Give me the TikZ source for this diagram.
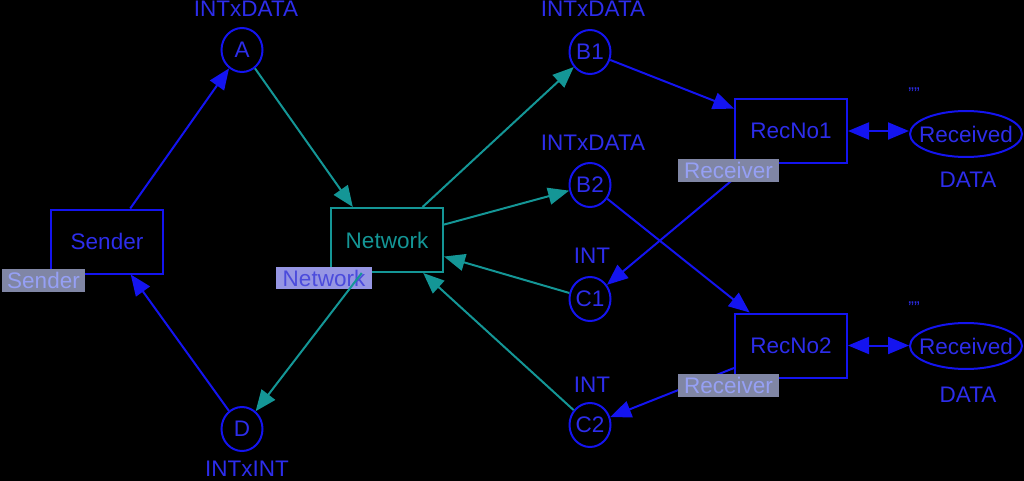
\documentclass[tikz,border=0pt]{standalone}
\usepackage{fontspec}
\setmainfont{Liberation Sans}
\usetikzlibrary{arrows.meta,shapes.geometric}
\definecolor{pblue}{RGB}{20,20,240}
\definecolor{ptext}{RGB}{45,45,235}
\definecolor{tealc}{RGB}{20,150,150}
\definecolor{tagfill}{RGB}{128,134,165}
\definecolor{tagtext}{RGB}{150,160,245}
\definecolor{ntagfill}{RGB}{150,150,228}
\definecolor{ntagtext}{RGB}{75,75,220}
\begin{document}
\begin{tikzpicture}[x=1pt,y=-1pt,
  every node/.style={font=\fontsize{22.5}{26}\selectfont},
  trans/.style={draw=pblue, line width=2pt, rectangle, minimum width=112pt, minimum height=64pt, inner sep=0pt, text=ptext},
  place/.style={draw=pblue, line width=2pt, ellipse, minimum width=41pt, minimum height=44pt, inner sep=0pt, text=ptext},
  bigplace/.style={draw=pblue, line width=2pt, ellipse, minimum width=112pt, minimum height=46pt, inner xsep=-8pt, inner ysep=0pt, text=ptext},
  lbl/.style={text=ptext, inner sep=0pt},
  quot/.style={text=ptext, inner sep=0pt, font=\fontsize{17}{18}\selectfont},
  tagbox/.style={fill=tagfill, text=tagtext, inner sep=0pt, minimum height=23pt},
  ntagbox/.style={fill=ntagfill, text=ntagtext, inner sep=0pt, minimum height=22pt, minimum width=96pt},
  tip/.tip={Triangle[length=21pt,width=17pt]},
  arcb/.style={draw=pblue, line width=2pt, -tip},
  arct/.style={draw=tealc, line width=2pt, -tip},
  dblarc/.style={draw=pblue, line width=2pt, tip-tip}
]
\fill[black] (0,0) rectangle (1024,481);
\useasboundingbox (0,0) rectangle (1024,481);

% transitions
\node[trans] (sender) at (107,241.5) {Sender};
\node[trans, draw=tealc, text=tealc] (network) at (387,240) {Network};
\node[trans] (recno1) at (791,131) {RecNo1};
\node[trans] (recno2) at (791,345.5) {RecNo2};

% places
\node[place] (A) at (242,50) {A};
\node[place] (B1) at (590,52) {B1};
\node[place] (B2) at (590,185) {B2};
\node[place] (C1) at (590,299) {C1};
\node[place] (C2) at (590,425) {C2};
\node[place] (D) at (242,429) {D};
\node[bigplace] (rec1) at (966,134) {Received};
\node[bigplace] (rec2) at (966,346) {Received};

% colour sets
\node[lbl] (lA) at (246,9) {INTxDATA};
\node[lbl] (lB1) at (593,9) {INTxDATA};
\node[lbl] (lB2) at (593,143) {INTxDATA};
\node[lbl] (lC1) at (592,256) {INT};
\node[lbl] (lC2) at (592,385) {INT};
\node[lbl] (lD) at (247,469) {INTxINT};
\node[lbl] (lr1) at (968,180) {DATA};
\node[lbl] (lr2) at (968,395) {DATA};
\node[quot] (q1) at (914,94) {""};
\node[quot] (q2) at (914,308) {""};

% network tag (below the arc)
\node[ntagbox] (tnet) at (324,278) {Network};

% arcs
\draw[arcb] (sender) -- (A);
\draw[arct] (A) -- (network.136.7);
\draw[arct] (network) -- (B1);
\draw[arct] (network) -- (B2);
\draw[arct] (C1) -- (network);
\draw[arct] (C2) -- (network);
\draw[arct] (network) -- (D);
\draw[arcb] (D) -- (sender);
\draw[arcb] (B1) -- (recno1);
\draw[arcb] (B2) -- (recno2);
\draw[arcb] (recno1) -- (C1);
\draw[arcb] (recno2) -- (C2);
\draw[dblarc] (recno1.east) -- (recno1.east -| rec1.west);
\draw[dblarc] (recno2.east) -- (recno2.east -| rec2.west);

% substitution tags
\node[tagbox, minimum width=83pt] (tsender) at (43.5,280) {Sender};
\node[tagbox, minimum width=101pt] (trec1) at (728.5,170.5) {Receiver};
\node[tagbox, minimum width=101pt] (trec2) at (728.5,385.5) {Receiver};
\end{tikzpicture}
\end{document}
